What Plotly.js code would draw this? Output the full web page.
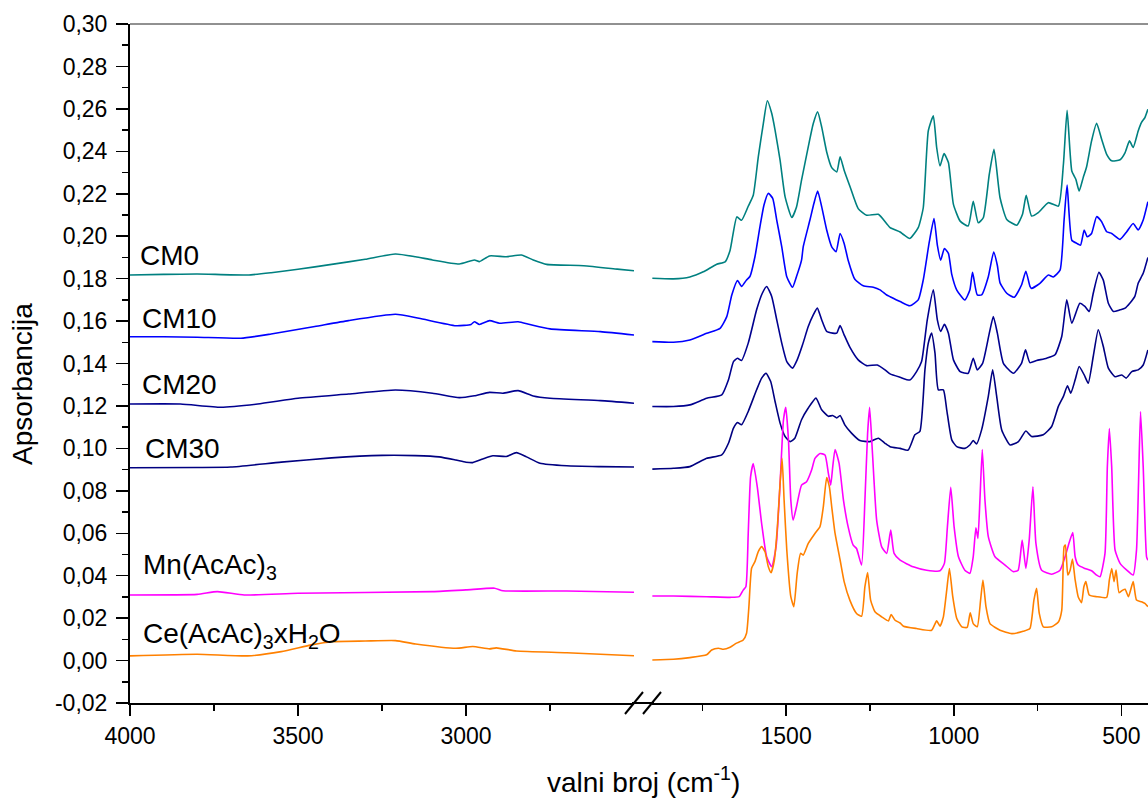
<!DOCTYPE html>
<html>
<head>
<meta charset="utf-8">
<script src="https://cdn.plot.ly/plotly-3.0.1.min.js"></script>
<style>
  html, body { margin: 0; padding: 0; background: #fff; }
  #chart { width: 1148px; height: 801px; }
</style>
</head>
<body>
<div id="chart"></div>
<script>
// ---------------- DATA ----------------
const seriesNames = ["CM0", "CM10", "CM20", "CM30", "Mn(AcAc)<sub>3</sub>", "Ce(AcAc)<sub>3</sub>xH<sub>2</sub>O"];
const seriesColors = ["#008080", "#0000FF", "#00008F", "#000080", "#FF00FF", "#FF8000"];
const xTitle = "valni broj (cm<sup>-1</sup>)";
const yTitle = "Apsorbancija";

// Left segment (4000 - 2500 cm-1)
const cm0LeftWn  = [4000, 3900, 3800, 3650, 3580, 3500, 3400, 3300, 3210, 3150, 3100, 3020, 2975, 2960, 2930, 2880, 2835, 2800, 2760, 2650, 2550, 2500];
const cm0LeftAbs = [0.1817, 0.1820, 0.1822, 0.1817, 0.1828, 0.1844, 0.1867, 0.1891, 0.1916, 0.1903, 0.1888, 0.1869, 0.1888, 0.1880, 0.1907, 0.1903, 0.1911, 0.1888, 0.1867, 0.1861, 0.1845, 0.1837];

const cm10LeftWn  = [4000, 3900, 3800, 3670, 3580, 3450, 3350, 3210, 3140, 3030, 2985, 2975, 2960, 2930, 2900, 2845, 2810, 2750, 2600, 2500];
const cm10LeftAbs = [0.1526, 0.1526, 0.1524, 0.1519, 0.1539, 0.1574, 0.1602, 0.1632, 0.1613, 0.1578, 0.1584, 0.1597, 0.1584, 0.1602, 0.1590, 0.1597, 0.1584, 0.1563, 0.1550, 0.1534];

const cm20LeftWn  = [4000, 3850, 3730, 3620, 3500, 3350, 3210, 3100, 3020, 2975, 2930, 2890, 2845, 2800, 2750, 2600, 2500];
const cm20LeftAbs = [0.1209, 0.1209, 0.1194, 0.1209, 0.1236, 0.1256, 0.1275, 0.1260, 0.1239, 0.1248, 0.1264, 0.1260, 0.1272, 0.1247, 0.1236, 0.1225, 0.1213];

const cm30LeftWn  = [4000, 3800, 3700, 3550, 3400, 3250, 3150, 3080, 3030, 3000, 2980, 2950, 2920, 2880, 2850, 2820, 2780, 2700, 2600, 2500];
const cm30LeftAbs = [0.0909, 0.0910, 0.0912, 0.0935, 0.0955, 0.0967, 0.0966, 0.0960, 0.0945, 0.0935, 0.0933, 0.0950, 0.0965, 0.0962, 0.0980, 0.0960, 0.0930, 0.0918, 0.0914, 0.0912];

const mnLeftWn  = [4000, 3800, 3740, 3660, 3500, 3100, 3000, 2915, 2890, 2700, 2500];
const mnLeftAbs = [0.0309, 0.0312, 0.0325, 0.0309, 0.0317, 0.0325, 0.0333, 0.0341, 0.0329, 0.0328, 0.0322];

const ceLeftWn  = [4000, 3800, 3650, 3550, 3460, 3400, 3300, 3210, 3150, 3030, 2980, 2930, 2910, 2850, 2700, 2500];
const ceLeftAbs = [0.0022, 0.0030, 0.0022, 0.0042, 0.0074, 0.0089, 0.0092, 0.0094, 0.0078, 0.0058, 0.0066, 0.0055, 0.0060, 0.0045, 0.0037, 0.0023];

// Right segment (1900 - ~420 cm-1)
const cm0RightWn  = [1899, 1836, 1787, 1747, 1707, 1682, 1667, 1647, 1633, 1613, 1598, 1583, 1568, 1556, 1543, 1533, 1518, 1503, 1483, 1469, 1454, 1434, 1419, 1406, 1394, 1379, 1364, 1349, 1339, 1327, 1309, 1285, 1260, 1225, 1200, 1190, 1160, 1150, 1131, 1106, 1091, 1076, 1061, 1051, 1041, 1029, 1016, 1001, 981, 957, 942, 927, 912, 894, 880, 862, 842, 812, 795, 784, 768, 748, 718, 688, 673, 662, 648, 636, 626, 614, 604, 589, 574, 559, 544, 529, 504, 489, 476, 465, 450, 440, 430, 421];
const cm0RightAbs = [0.1802, 0.1799, 0.1808, 0.1832, 0.1868, 0.1879, 0.1934, 0.2091, 0.2075, 0.2141, 0.2193, 0.2374, 0.2531, 0.2638, 0.2579, 0.2500, 0.2358, 0.2185, 0.2088, 0.2138, 0.2264, 0.2421, 0.2531, 0.2586, 0.2515, 0.2397, 0.2323, 0.2303, 0.2374, 0.2311, 0.2232, 0.2130, 0.2099, 0.2103, 0.2059, 0.2040, 0.2020, 0.2008, 0.1989, 0.2040, 0.2134, 0.2496, 0.2567, 0.2418, 0.2331, 0.2389, 0.2347, 0.2150, 0.2071, 0.2048, 0.2165, 0.2063, 0.2087, 0.2292, 0.2409, 0.2181, 0.2079, 0.2052, 0.2103, 0.2193, 0.2095, 0.2111, 0.2158, 0.2142, 0.2339, 0.2593, 0.2307, 0.2268, 0.2213, 0.2276, 0.2326, 0.2449, 0.2532, 0.2457, 0.2386, 0.2355, 0.2360, 0.2394, 0.2449, 0.2418, 0.2496, 0.2536, 0.2559, 0.2598];

const cm10RightWn  = [1899, 1836, 1787, 1737, 1697, 1677, 1662, 1645, 1633, 1618, 1608, 1593, 1578, 1566, 1553, 1540, 1528, 1513, 1498, 1481, 1469, 1454, 1449, 1429, 1417, 1406, 1394, 1379, 1364, 1351, 1339, 1327, 1315, 1295, 1270, 1240, 1220, 1200, 1190, 1160, 1131, 1106, 1091, 1073, 1059, 1049, 1039, 1028, 1016, 1006, 991, 967, 952, 944, 930, 917, 897, 881, 870, 862, 842, 820, 798, 785, 773, 768, 743, 718, 703, 683, 671, 662, 648, 633, 622, 611, 602, 589, 574, 559, 544, 529, 504, 484, 465, 450, 435, 421];
const cm10RightAbs = [0.1503, 0.1500, 0.1511, 0.1542, 0.1566, 0.1621, 0.1723, 0.1791, 0.1763, 0.1794, 0.1810, 0.1903, 0.2045, 0.2147, 0.2202, 0.2178, 0.2076, 0.1950, 0.1809, 0.1759, 0.1810, 0.1887, 0.1950, 0.2076, 0.2155, 0.2213, 0.2139, 0.2029, 0.1950, 0.1927, 0.2013, 0.1966, 0.1887, 0.1797, 0.1766, 0.1759, 0.1747, 0.1723, 0.1715, 0.1692, 0.1672, 0.1700, 0.1794, 0.1973, 0.2083, 0.1958, 0.1887, 0.1942, 0.1919, 0.1820, 0.1746, 0.1699, 0.1746, 0.1830, 0.1723, 0.1723, 0.1809, 0.1925, 0.1862, 0.1780, 0.1731, 0.1712, 0.1770, 0.1835, 0.1765, 0.1754, 0.1778, 0.1817, 0.1808, 0.1840, 0.2076, 0.2241, 0.1981, 0.1966, 0.1958, 0.2029, 0.1997, 0.2013, 0.2092, 0.2068, 0.2021, 0.2013, 0.1985, 0.2021, 0.2060, 0.2029, 0.2076, 0.2162];

const cm20RightWn  = [1899, 1836, 1787, 1737, 1692, 1672, 1657, 1645, 1633, 1613, 1588, 1571, 1558, 1543, 1528, 1513, 1498, 1481, 1467, 1451, 1434, 1419, 1407, 1394, 1379, 1361, 1349, 1339, 1327, 1310, 1285, 1260, 1228, 1205, 1190, 1160, 1131, 1111, 1096, 1079, 1061, 1049, 1039, 1028, 1016, 1001, 981, 957, 942, 930, 914, 894, 882, 870, 852, 822, 798, 786, 773, 753, 723, 698, 678, 663, 648, 624, 609, 596, 584, 567, 554, 539, 524, 504, 489, 475, 460, 450, 435, 421];
const cm20RightAbs = [0.1197, 0.1197, 0.1205, 0.1236, 0.1252, 0.1323, 0.1409, 0.1425, 0.1414, 0.1496, 0.1653, 0.1731, 0.1763, 0.1716, 0.1606, 0.1496, 0.1409, 0.1378, 0.1417, 0.1488, 0.1574, 0.1629, 0.1661, 0.1606, 0.1551, 0.1543, 0.1543, 0.1579, 0.1535, 0.1477, 0.1417, 0.1390, 0.1393, 0.1370, 0.1351, 0.1335, 0.1322, 0.1362, 0.1409, 0.1606, 0.1747, 0.1606, 0.1551, 0.1585, 0.1543, 0.1417, 0.1362, 0.1354, 0.1425, 0.1370, 0.1401, 0.1543, 0.1621, 0.1543, 0.1401, 0.1354, 0.1401, 0.1464, 0.1404, 0.1414, 0.1425, 0.1441, 0.1527, 0.1700, 0.1590, 0.1684, 0.1669, 0.1645, 0.1731, 0.1830, 0.1793, 0.1684, 0.1645, 0.1653, 0.1661, 0.1684, 0.1716, 0.1778, 0.1825, 0.1900];

const cm30RightWn  = [1899, 1836, 1787, 1737, 1692, 1672, 1657, 1645, 1633, 1613, 1588, 1573, 1560, 1546, 1533, 1518, 1503, 1488, 1474, 1454, 1434, 1411, 1394, 1374, 1361, 1349, 1339, 1325, 1305, 1280, 1250, 1225, 1205, 1190, 1160, 1136, 1116, 1101, 1086, 1076, 1066, 1056, 1046, 1031, 1021, 1006, 991, 967, 952, 942, 932, 917, 897, 884, 872, 857, 832, 807, 785, 768, 733, 708, 688, 673, 661, 651, 638, 626, 611, 599, 584, 569, 554, 539, 519, 499, 486, 469, 450, 435, 421];
const cm30RightAbs = [0.0902, 0.0906, 0.0914, 0.0953, 0.0969, 0.1024, 0.1095, 0.1122, 0.1111, 0.1174, 0.1276, 0.1331, 0.1354, 0.1315, 0.1221, 0.1119, 0.1056, 0.1032, 0.1048, 0.1135, 0.1190, 0.1237, 0.1182, 0.1151, 0.1155, 0.1143, 0.1155, 0.1111, 0.1072, 0.1037, 0.1032, 0.1048, 0.1024, 0.1008, 0.1000, 0.0992, 0.1064, 0.1080, 0.1370, 0.1496, 0.1543, 0.1449, 0.1276, 0.1276, 0.1182, 0.1040, 0.1008, 0.1000, 0.1016, 0.1037, 0.1021, 0.1087, 0.1245, 0.1370, 0.1245, 0.1087, 0.1016, 0.1032, 0.1082, 0.1056, 0.1064, 0.1103, 0.1198, 0.1245, 0.1295, 0.1260, 0.1323, 0.1386, 0.1346, 0.1307, 0.1433, 0.1559, 0.1480, 0.1378, 0.1338, 0.1346, 0.1331, 0.1362, 0.1370, 0.1393, 0.1464];

const mnRightWn  = [1899, 1836, 1737, 1667, 1640, 1628, 1620, 1613, 1606, 1598, 1586, 1573, 1558, 1543, 1530, 1518, 1508, 1501, 1493, 1486, 1479, 1469, 1454, 1439, 1424, 1414, 1399, 1384, 1374, 1367, 1361, 1354, 1342, 1329, 1315, 1300, 1290, 1275, 1265, 1257, 1251, 1243, 1230, 1215, 1200, 1188, 1178, 1160, 1121, 1081, 1041, 1028, 1019, 1009, 999, 986, 967, 952, 942, 934, 928, 922, 915, 907, 897, 877, 847, 822, 808, 796, 785, 775, 764, 755, 738, 708, 683, 668, 655, 645, 638, 629, 609, 589, 574, 564, 549, 542, 536, 529, 519, 504, 484, 465, 455, 449, 443, 435, 425, 421];
const mnRightAbs = [0.0304, 0.0304, 0.0301, 0.0298, 0.0301, 0.0332, 0.0348, 0.0599, 0.0866, 0.0929, 0.0819, 0.0646, 0.0489, 0.0442, 0.0536, 0.0834, 0.1133, 0.1193, 0.1039, 0.0756, 0.0662, 0.0725, 0.0827, 0.0843, 0.0898, 0.0953, 0.0976, 0.0969, 0.0882, 0.0827, 0.0913, 0.0995, 0.0929, 0.0756, 0.0630, 0.0544, 0.0528, 0.0450, 0.0756, 0.1070, 0.1193, 0.0992, 0.0662, 0.0536, 0.0505, 0.0615, 0.0505, 0.0473, 0.0442, 0.0426, 0.0423, 0.0458, 0.0630, 0.0816, 0.0630, 0.0489, 0.0426, 0.0411, 0.0489, 0.0626, 0.0576, 0.0756, 0.0995, 0.0756, 0.0584, 0.0489, 0.0450, 0.0419, 0.0426, 0.0568, 0.0434, 0.0568, 0.0819, 0.0552, 0.0426, 0.0407, 0.0426, 0.0489, 0.0560, 0.0603, 0.0489, 0.0450, 0.0434, 0.0423, 0.0403, 0.0395, 0.0505, 0.0913, 0.1094, 0.0913, 0.0521, 0.0458, 0.0426, 0.0403, 0.0521, 0.0835, 0.1173, 0.0913, 0.0489, 0.0473];

const ceRightWn  = [1899, 1836, 1787, 1737, 1722, 1702, 1687, 1667, 1648, 1628, 1618, 1611, 1603, 1593, 1583, 1573, 1563, 1553, 1545, 1535, 1526, 1518, 1512, 1506, 1498, 1486, 1477, 1467, 1457, 1449, 1434, 1414, 1399, 1389, 1379, 1371, 1364, 1354, 1339, 1327, 1310, 1290, 1275, 1265, 1257, 1248, 1235, 1215, 1195, 1187, 1175, 1160, 1150, 1111, 1066, 1051, 1041, 1031, 1021, 1013, 1003, 991, 976, 960, 951, 942, 930, 920, 913, 904, 892, 862, 827, 793, 773, 761, 753, 745, 733, 708, 688, 678, 671, 667, 660, 653, 646, 638, 629, 619, 612, 606, 596, 574, 544, 536, 529, 522, 516, 507, 496, 489, 479, 465, 455, 440, 430, 421];
const ceRightAbs = [0.0003, 0.0006, 0.0014, 0.0027, 0.0050, 0.0058, 0.0053, 0.0063, 0.0082, 0.0097, 0.0129, 0.0254, 0.0435, 0.0466, 0.0513, 0.0537, 0.0513, 0.0442, 0.0414, 0.0474, 0.0631, 0.0835, 0.0953, 0.0756, 0.0521, 0.0301, 0.0254, 0.0411, 0.0505, 0.0497, 0.0552, 0.0599, 0.0631, 0.0725, 0.0863, 0.0819, 0.0725, 0.0599, 0.0474, 0.0372, 0.0285, 0.0222, 0.0209, 0.0348, 0.0415, 0.0285, 0.0230, 0.0206, 0.0187, 0.0217, 0.0190, 0.0177, 0.0162, 0.0151, 0.0143, 0.0187, 0.0162, 0.0206, 0.0332, 0.0434, 0.0301, 0.0198, 0.0159, 0.0156, 0.0225, 0.0174, 0.0159, 0.0285, 0.0380, 0.0254, 0.0174, 0.0143, 0.0127, 0.0138, 0.0151, 0.0285, 0.0340, 0.0222, 0.0159, 0.0159, 0.0182, 0.0237, 0.0536, 0.0544, 0.0403, 0.0426, 0.0478, 0.0380, 0.0301, 0.0273, 0.0348, 0.0372, 0.0309, 0.0301, 0.0298, 0.0380, 0.0434, 0.0372, 0.0426, 0.0320, 0.0332, 0.0336, 0.0301, 0.0372, 0.0285, 0.0277, 0.0269, 0.0254];

// Axis ticks
const xTicksLeft   = [4000, 3500, 3000];
const xMinorLeft   = [3750, 3250, 2750];
const xTicksRight  = [1500, 1000, 500];
const xMinorRight  = [1750, 1250, 750];
const yTickVals    = [-0.02, 0.00, 0.02, 0.04, 0.06, 0.08, 0.10, 0.12, 0.14, 0.16, 0.18, 0.20, 0.22, 0.24, 0.26, 0.28, 0.30];
const yMinorVals   = [-0.01, 0.01, 0.03, 0.05, 0.07, 0.09, 0.11, 0.13, 0.15, 0.17, 0.19, 0.21, 0.23, 0.25, 0.27, 0.29];
const yTickText    = yTickVals.map(v => v.toFixed(2).replace('.', ','));

// ---------------- LAYOUT GEOMETRY ----------------
const W = 1148, H = 801;
const L = 130, T = 24, B = 703;          // plot area edges in px
const PW = W - L, PH = B - T;
const px = x => (x - L) / PW;             // px -> paper x
const py = y => (B - y) / PH;             // px -> paper y
const leftEnd = 634, rightStart = 652;    // break gap
const rightRangeEnd = 1900 - (W - rightStart) / 0.3353;

const FONT = "Liberation Sans, Arial, Helvetica, sans-serif";

const left = [
  [cm0LeftWn, cm0LeftAbs], [cm10LeftWn, cm10LeftAbs], [cm20LeftWn, cm20LeftAbs],
  [cm30LeftWn, cm30LeftAbs], [mnLeftWn, mnLeftAbs], [ceLeftWn, ceLeftAbs]
];
const right = [
  [cm0RightWn, cm0RightAbs], [cm10RightWn, cm10RightAbs], [cm20RightWn, cm20RightAbs],
  [cm30RightWn, cm30RightAbs], [mnRightWn, mnRightAbs], [ceRightWn, ceRightAbs]
];

const traces = [];
for (let i = 0; i < seriesNames.length; i++) {
  traces.push({
    x: left[i][0], y: left[i][1], xaxis: 'x', yaxis: 'y',
    type: 'scatter', mode: 'lines', name: seriesNames[i], showlegend: false,
    line: { color: seriesColors[i], width: 1.6, shape: 'spline', smoothing: 0.5 }, hoverinfo: 'skip'
  });
  traces.push({
    x: right[i][0], y: right[i][1], xaxis: 'x2', yaxis: 'y',
    type: 'scatter', mode: 'lines', name: seriesNames[i], showlegend: false,
    line: { color: seriesColors[i], width: 1.6, shape: 'spline', smoothing: 0.5 }, hoverinfo: 'skip'
  });
}

const axisCommon = {
  tickmode: 'array', ticks: 'outside', ticklen: 11, tickwidth: 1.5, tickcolor: '#000',
  showline: true, linewidth: 2, linecolor: '#000', showgrid: false, zeroline: false,
  tickfont: { family: FONT, size: 23, color: '#000' }, fixedrange: true
};

const labelX  = [138, 140, 140, 143, 141, 141];
const labelBL = [264, 327, 393, 457, 573, 642];   // baselines in px

const annotations = seriesNames.map((n, i) => ({
  text: n, xref: 'paper', yref: 'paper', x: px(labelX[i]), y: py(labelBL[i] - 26.3),
  xanchor: 'left', yanchor: 'top', showarrow: false,
  font: { family: FONT, size: 28, color: '#000' }
}));
annotations.push({
  text: xTitle, xref: 'paper', yref: 'paper',
  x: px(643), y: py(800), xanchor: 'center', yanchor: 'bottom', showarrow: false,
  font: { family: FONT, size: 28, color: '#000' }
});
annotations.push({
  text: yTitle, xref: 'paper', yref: 'paper', textangle: -90,
  x: px(22), y: py(384), xanchor: 'center', yanchor: 'middle', showarrow: false,
  font: { family: FONT, size: 28, color: '#000' }
});

const shapes = [
  { type: 'line', xref: 'paper', yref: 'paper', x0: 0, x1: 1, y0: 1, y1: 1, line: { color: '#222', width: 1 } },
  { type: 'line', xref: 'paper', yref: 'paper', x0: px(leftEnd - 2), x1: px(rightStart + 2), y0: 0, y1: 0, line: { color: '#000', width: 2 } },
  { type: 'line', xref: 'paper', yref: 'paper', x0: px(625), x1: px(643), y0: py(714), y1: py(692), line: { color: '#000', width: 2 } },
  { type: 'line', xref: 'paper', yref: 'paper', x0: px(643), x1: px(661), y0: py(714), y1: py(692), line: { color: '#000', width: 2 } }
];

const layout = {
  width: W, height: H,
  margin: { l: L, r: 0, t: T, b: H - B, pad: 0 },
  paper_bgcolor: '#fff', plot_bgcolor: '#fff',
  font: { family: FONT, color: '#000' },
  showlegend: false,
  xaxis: Object.assign({}, axisCommon, {
    domain: [0, px(leftEnd)], range: [4000, 2500], anchor: 'y',
    tickvals: xTicksLeft, ticktext: xTicksLeft.map(String),
    minor: { tickmode: 'array', tickvals: xMinorLeft, ticks: 'outside', ticklen: 6, tickwidth: 1.5, tickcolor: '#000', showgrid: false }
  }),
  xaxis2: Object.assign({}, axisCommon, {
    domain: [px(rightStart), 1], range: [1900, rightRangeEnd], anchor: 'y',
    tickvals: xTicksRight, ticktext: xTicksRight.map(String),
    minor: { tickmode: 'array', tickvals: xMinorRight, ticks: 'outside', ticklen: 6, tickwidth: 1.5, tickcolor: '#000', showgrid: false }
  }),
  yaxis: Object.assign({}, axisCommon, {
    domain: [0, 1], range: [-0.02, 0.30], anchor: 'x', ticklen: 12,
    tickvals: yTickVals, ticktext: yTickText, ticklabelstandoff: 4,
    minor: { tickmode: 'array', tickvals: yMinorVals, ticks: 'outside', ticklen: 6, tickwidth: 1.5, tickcolor: '#000', showgrid: false }
  }),
  annotations: annotations,
  shapes: shapes
};

Plotly.newPlot('chart', traces, layout, { staticPlot: true, displayModeBar: false });
</script>
</body>
</html>
